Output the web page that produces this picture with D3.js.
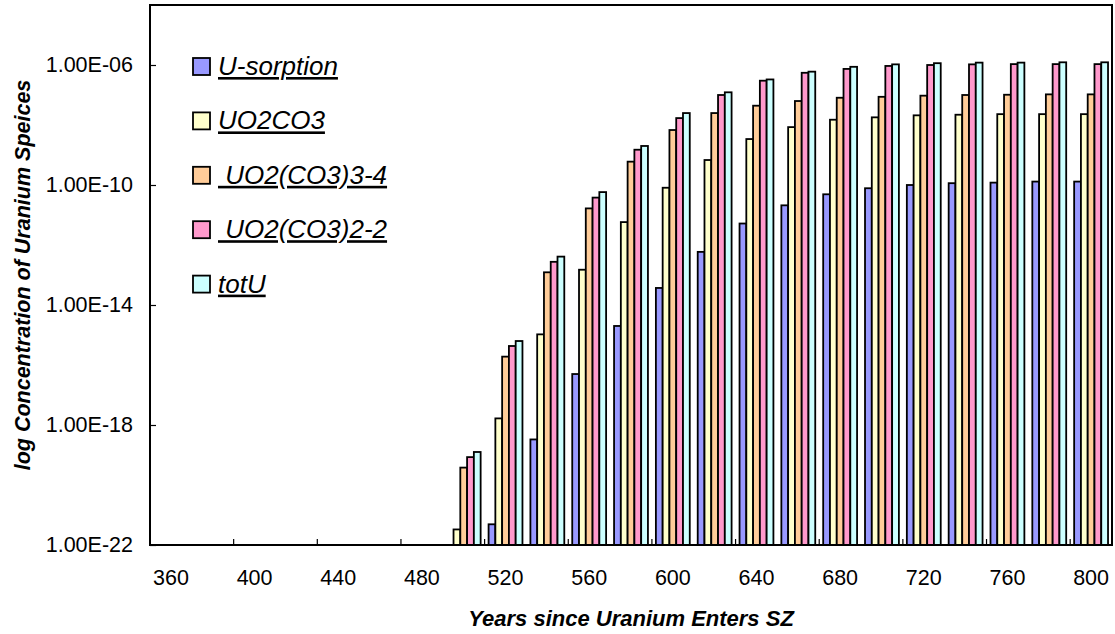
<!DOCTYPE html>
<html>
<head>
<meta charset="utf-8">
<script src="https://cdn.jsdelivr.net/npm/d3@7"></script>
<style>
  body { margin: 0; background: #fff; }
  text { font-family: "Liberation Sans", Arial, sans-serif; fill: #000; }
</style>
</head>
<body>
<svg id="chart" width="1115" height="634"></svg>
<script>
// Years since uranium enters the SZ (one category every 20 years)
const years = [360, 380, 400, 420, 440, 460, 480, 500, 520, 540, 560, 580,
               600, 620, 640, 660, 680, 700, 720, 740, 760, 780, 800];

// Concentrations per species (null = nothing above the axis floor)
const uSorption = [null, null, null, null, null, null, null, null,
  4.9e-22, 3.3e-19, 5.0e-17, 2.0e-15, 3.7e-14, 5.9e-13, 5.2e-12, 2.1e-11,
  4.9e-11, 7.8e-11, 1.0e-10, 1.15e-10, 1.2e-10, 1.3e-10, 1.3e-10];
const uo2co3 = [null, null, null, null, null, null, null,
  3.3e-22, 1.66e-18, 1.05e-15, 1.5e-13, 5.8e-12, 8.1e-11, 6.8e-10, 3.4e-9,
  8.5e-9, 1.5e-8, 1.8e-8, 2.1e-8, 2.2e-8, 2.3e-8, 2.3e-8, 2.3e-8];
const uo2co3_3 = [null, null, null, null, null, null, null,
  3.8e-20, 1.9e-16, 1.23e-13, 1.66e-11, 6.0e-10, 6.8e-9, 2.5e-8, 4.4e-8,
  6.3e-8, 8.1e-8, 8.7e-8, 9.5e-8, 1.0e-7, 1.02e-7, 1.05e-7, 1.05e-7];
const uo2co3_2 = [null, null, null, null, null, null, null,
  8.5e-20, 4.3e-16, 2.75e-13, 3.8e-11, 1.5e-9, 1.7e-8, 1.0e-7, 3.0e-7,
  5.5e-7, 7.4e-7, 9.3e-7, 1.0e-6, 1.05e-6, 1.07e-6, 1.07e-6, 1.07e-6];
const totU = [null, null, null, null, null, null, null,
  1.26e-19, 6.3e-16, 4.1e-13, 5.8e-11, 2.0e-9, 2.5e-8, 1.23e-7, 3.3e-7,
  6.0e-7, 8.7e-7, 1.05e-6, 1.15e-6, 1.2e-6, 1.2e-6, 1.23e-6, 1.23e-6];

const seriesNames = ["U-sorption", "UO2CO3", " UO2(CO3)3-4", " UO2(CO3)2-2", "totU"];
const seriesValues = [uSorption, uo2co3, uo2co3_3, uo2co3_2, totU];
const seriesColors = ["#9999FF", "#FFFFCC", "#FFCC99", "#FF99CC", "#CCFFFF"];

const yTicks = [1e-22, 1e-18, 1e-14, 1e-10, 1e-6];

const svg = d3.select("#chart");
const plot = { left: 150, right: 1112, top: 5, bottom: 545 };

const x0 = d3.scaleBand()
  .domain(years)
  .range([plot.left, plot.right])
  .paddingInner(0.19)
  .paddingOuter(0.095);

const x1 = d3.scaleBand()
  .domain(d3.range(seriesNames.length))
  .range([0, x0.bandwidth()]);

const y = d3.scaleLog()
  .domain([1e-22, 1e-4])
  .range([plot.bottom, plot.top]);

// Excel-style scientific label, e.g. 1.00E-06
function sci(v) {
  const [m, e] = d3.format(".2e")(v).split("e");
  const n = +e;
  return m + "E" + (n < 0 ? "-" : "+") + String(Math.abs(n)).padStart(2, "0");
}

// Bars
const floor = y.domain()[0];
const rows = [];
years.forEach((yr, i) => {
  seriesValues.forEach((vals, s) => {
    const v = vals[i];
    if (v != null && v > floor) rows.push({ yr, s, v });
  });
});

svg.append("g")
  .selectAll("rect")
  .data(rows)
  .join("rect")
  .attr("x", d => x0(d.yr) + x1(d.s))
  .attr("y", d => y(d.v))
  .attr("width", x1.bandwidth())
  .attr("height", d => plot.bottom - y(d.v))
  .attr("fill", d => seriesColors[d.s])
  .attr("stroke", "#000")
  .attr("stroke-width", 1.8);

// Y axis
const yAxis = svg.append("g")
  .attr("transform", `translate(${plot.left},0)`)
  .call(d3.axisLeft(y).tickValues(yTicks).tickFormat(sci)
    .tickSizeInner(-6).tickSizeOuter(0).tickPadding(17));
yAxis.select(".domain").remove();
yAxis.selectAll("line").attr("stroke", "#000").attr("stroke-width", 1.2);
yAxis.selectAll("text").attr("font-size", 21.5)
  .attr("font-family", "'Liberation Sans', Arial, sans-serif");

// X axis labels on every other category
const xAxis = svg.append("g")
  .attr("transform", `translate(0,${plot.bottom})`)
  .call(d3.axisBottom(x0).tickValues(years.filter((d, i) => i % 2 === 0))
    .tickSize(0).tickPadding(25));
xAxis.select(".domain").remove();
xAxis.selectAll("text").attr("font-size", 21.5)
  .attr("font-family", "'Liberation Sans', Arial, sans-serif");

// X tick marks at category boundaries, every two categories
const bounds = d3.range(2, years.length, 2).map(i => x0.range()[0] + i * x0.step());
svg.append("g")
  .selectAll("line")
  .data(bounds)
  .join("line")
  .attr("x1", d => d).attr("x2", d => d)
  .attr("y1", plot.bottom).attr("y2", plot.bottom - 6)
  .attr("stroke", "#000").attr("stroke-width", 1.2);

// Plot frame
svg.append("rect")
  .attr("x", plot.left).attr("y", plot.top)
  .attr("width", plot.right - plot.left).attr("height", plot.bottom - plot.top)
  .attr("fill", "none").attr("stroke", "#000").attr("stroke-width", 2);

// Axis titles
svg.append("text")
  .attr("x", (plot.left + plot.right) / 2)
  .attr("y", 626)
  .attr("text-anchor", "middle")
  .attr("font-size", 22)
  .attr("font-weight", "bold")
  .attr("font-style", "italic")
  .text("Years since Uranium Enters SZ");

svg.append("text")
  .attr("transform", `translate(30,${(plot.top + plot.bottom) / 2}) rotate(-90)`)
  .attr("text-anchor", "middle")
  .attr("font-size", 21.5)
  .attr("font-weight", "bold")
  .attr("font-style", "italic")
  .text("log Concentration of Uranium Speices");

// Legend
const legend = svg.append("g").attr("transform", "translate(193,75)");
const item = legend.selectAll("g")
  .data(seriesNames)
  .join("g")
  .attr("transform", (d, i) => `translate(0,${i * 54.4})`);
item.append("rect")
  .attr("x", 0).attr("y", -17)
  .attr("width", 17).attr("height", 17)
  .attr("fill", (d, i) => seriesColors[i])
  .attr("stroke", "#000").attr("stroke-width", 1.8);
item.append("text")
  .attr("x", 25).attr("y", 0)
  .attr("font-size", 26)
  .attr("font-style", "italic")
  .attr("text-decoration", "underline")
  .style("white-space", "pre")
  .text(d => d);
</script>
</body>
</html>
